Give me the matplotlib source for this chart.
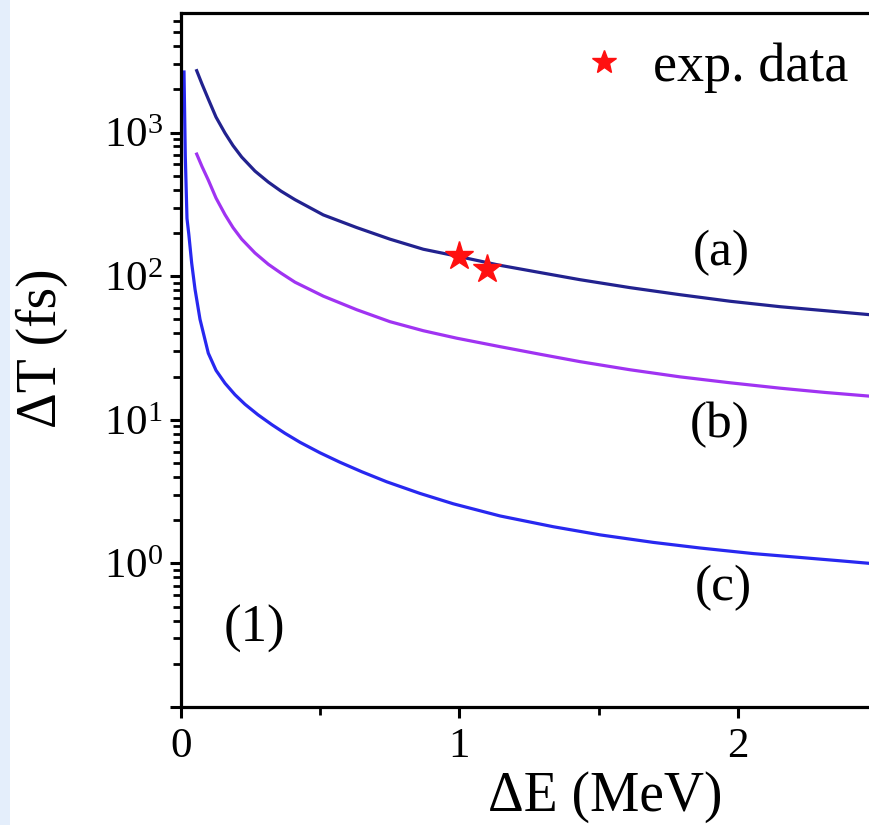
import matplotlib
matplotlib.use("Agg")
import matplotlib.pyplot as plt
from matplotlib.patches import Rectangle
from matplotlib.ticker import FixedLocator, FixedFormatter, LogLocator, NullFormatter

plt.rcParams["font.family"] = ["Liberation Serif", "DejaVu Serif"]
plt.rcParams["mathtext.fontset"] = "custom"
plt.rcParams["mathtext.rm"] = "Liberation Serif"

# Curve (a): energy gap (MeV) vs. time delay (fs)
energy_a = [0.0564, 0.0754, 0.098, 0.1257, 0.158, 0.1867, 0.218, 0.2657, 0.3135,
            0.3591, 0.4093, 0.511, 0.6309, 0.7504, 0.87, 0.9899, 1.1454, 1.289,
            1.4327, 1.6122, 1.7917, 1.9713, 2.1508, 2.3124, 2.474, 2.636]
time_a = [2697, 2178, 1712, 1282, 992, 812, 675, 539, 452,
          391, 341, 267, 218, 181, 154, 138, 119, 106,
          94.5, 83.2, 74.3, 66.9, 61.3, 57.5, 53.9, 50.7]

# Curve (b)
energy_b = [0.0564, 0.0754, 0.098, 0.1257, 0.158, 0.1867, 0.218, 0.2657, 0.3135,
            0.3591, 0.4093, 0.511, 0.6309, 0.7504, 0.87, 0.9899, 1.1454, 1.289,
            1.4327, 1.6122, 1.7917, 1.9713, 2.1508, 2.3124, 2.474, 2.636]
time_b = [708, 580, 467, 350, 268, 218, 181, 145, 121,
          105, 90.8, 72.6, 58.4, 48.2, 41.7, 37.0, 32.3, 28.6,
          25.4, 22.3, 19.9, 18.1, 16.6, 15.5, 14.6, 13.7]

# Curve (c)
energy_c = [0.0108, 0.0154, 0.0215, 0.028, 0.0384, 0.0503, 0.0682, 0.098, 0.1257,
            0.158, 0.1939, 0.2298, 0.2765, 0.3268, 0.3734, 0.4273, 0.4991, 0.5709,
            0.6499, 0.7386, 0.8582, 0.9777, 1.1454, 1.3368, 1.5045, 1.6959,
            1.8636, 2.055, 2.2226, 2.3724, 2.474, 2.6355]
time_c = [2640, 686, 252, 196, 123, 81.2, 50.1, 29.1, 22.1,
          17.96, 14.94, 12.82, 10.83, 9.23, 8.05, 6.97, 5.89, 5.06,
          4.34, 3.70, 3.07, 2.60, 2.14, 1.80, 1.58, 1.40,
          1.28, 1.17, 1.10, 1.04, 1.00, 0.945]

# Experimental points
exp_energy = [1.0, 1.1]
exp_time = [138, 112]

y_major = [0.1, 1, 10, 100, 1000, 10000]
y_major_labels = ["", r"$\mathregular{10^{0}}$", r"$\mathregular{10^{1}}$",
                  r"$\mathregular{10^{2}}$", r"$\mathregular{10^{3}}$", ""]
x_major = [0, 1, 2]
x_major_labels = ["0", "1", "2"]
x_minor = [0.5, 1.5, 2.5]

W, H, DPI = 870, 825, 100
fig = plt.figure(figsize=(W / DPI, H / DPI), dpi=DPI)
fig.patch.set_facecolor("white")
fig.add_artist(Rectangle((0, 0), 10 / W, 1, transform=fig.transFigure,
                         color="#e4eefb", lw=0, zorder=0))

left_px, right_px = 181, 181 + 3 * 278.5
top_px, bottom_px = 13, 707
ax = fig.add_axes([left_px / W, (H - bottom_px) / H,
                   (right_px - left_px) / W, (bottom_px - top_px) / H])

ax.set_yscale("log")
ax.set_xlim(0, 3)
ax.set_ylim(0.1, 6800)

lw = 2.3
ax.plot(energy_a, time_a, color="#22228f", lw=lw, solid_joinstyle="round")
ax.plot(energy_b, time_b, color="#a033f2", lw=lw, solid_joinstyle="round")
ax.plot(energy_c, time_c, color="#2828f0", lw=lw, solid_joinstyle="round")
ax.plot(exp_energy, exp_time, ls="none", marker="*", ms=21, color="#ff1010",
        mec="#ff1010", label="exp. data", zorder=5)

for s in ax.spines.values():
    s.set_linewidth(2.3)
ax.spines["right"].set_visible(False)

ax.yaxis.set_major_locator(FixedLocator(y_major))
ax.yaxis.set_major_formatter(FixedFormatter(y_major_labels))
ax.yaxis.set_minor_locator(LogLocator(base=10, subs=range(2, 10), numticks=20))
ax.yaxis.set_minor_formatter(NullFormatter())
ax.xaxis.set_major_locator(FixedLocator(x_major))
ax.xaxis.set_major_formatter(FixedFormatter(x_major_labels))
ax.xaxis.set_minor_locator(FixedLocator(x_minor))

ax.tick_params(which="major", direction="out", length=8, width=2.2,
               labelsize=31, pad=5)
ax.tick_params(which="minor", direction="out", length=5.5, width=2.0)
ax.tick_params(axis="x", which="major", pad=7)
ax.tick_params(top=False, right=False, which="both")

ax.set_xlabel("ΔE (MeV)", fontsize=40)
ax.set_ylabel("ΔT (fs)", fontsize=40)
ax.xaxis.set_label_coords(0.5075, -0.092)
ax.yaxis.set_label_coords(-0.135, 0.517)

text_kw = dict(fontsize=37, ha="center", va="center")
ax.text(1.939, 144.6, "(a)", **text_kw)
ax.text(1.936, 9.16, "(b)", **text_kw)
ax.text(1.946, 0.67, "(c)", **text_kw)
ax.text(0.262, 0.352, "(1)", fontsize=38, ha="center", va="center")

ax.legend(loc="center left", bbox_to_anchor=(577 / W, 1 - 68 / H),
          bbox_transform=fig.transFigure, frameon=False, fontsize=39,
          handlelength=1.0, handletextpad=0.4, borderpad=0, borderaxespad=0,
          markerscale=0.85)

fig.savefig("out.png", dpi=DPI)
